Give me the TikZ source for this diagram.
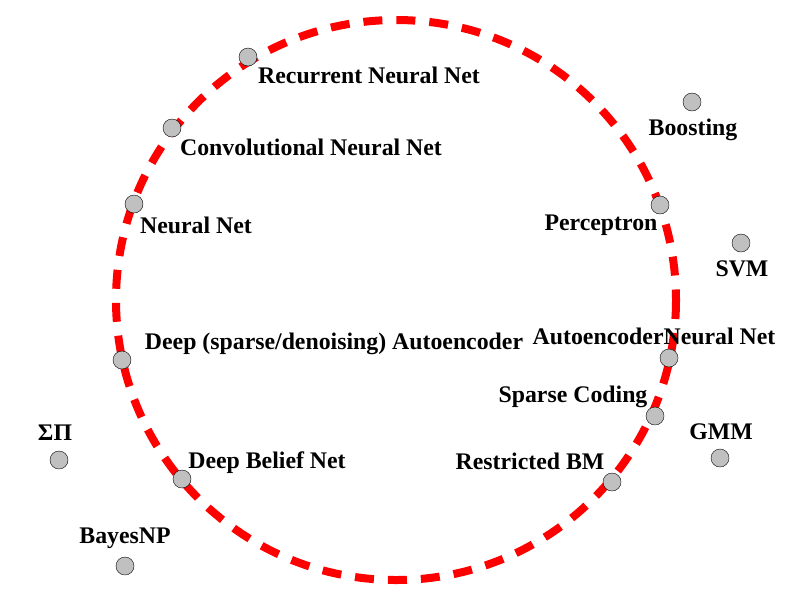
\documentclass[tikz,border=0pt]{standalone}
\usepackage{fontspec}
\setmainfont{Liberation Serif}
\usetikzlibrary{positioning}

\begin{document}
\begin{tikzpicture}[
                    x=1pt, y=-1pt,
                    ring/.style={red, line width=8pt, dash pattern=on 19pt off 14pt},
                    dot/.style={circle, draw, thin, fill={rgb,255:red,192;green,192;blue,192}, minimum size=18pt, inner sep=0pt},
                    lbl/.style={inner sep=0pt, font=\fontsize{23.8}{28}\selectfont\bfseries}
                ]
                \useasboundingbox (0,0) rectangle (794,595);
                \draw [ring] (396,300) circle [radius=280];
                % models on the ring
                \node [dot] (rnn) at (248,57) {};
                \node [dot] (cnn) at (172,128) {};
                \node [dot] (nn) at (134,204) {};
                \node [dot] (dae) at (122,360) {};
                \node [dot] (dbn) at (182,479) {};
                \node [dot] (rbm) at (612,482) {};
                \node [dot] (sc) at (655,416) {};
                \node [dot] (aenn) at (669,358) {};
                \node [dot] (perc) at (660,205) {};
                % models off the ring
                \node [dot] (boost) at (692,102) {};
                \node [dot] (svm) at (741,243) {};
                \node [dot] (gmm) at (720,458) {};
                \node [dot] (sp) at (59,460) {};
                \node [dot] (bnp) at (125,566) {};
                % labels
                \node [lbl] (rnnl) at (369,75) {Recurrent Neural Net};
                \node [lbl] (cnnl) at (311,147) {Convolutional Neural Net};
                \node [lbl] (nnl) at (196,225) {Neural Net};
                \node [lbl] (dael) at (334,344) {Deep (sparse/denoising) Autoencoder};
                \node [lbl] (aennl) at (654,336) {AutoencoderNeural Net};
                \node [lbl] (scl) at (573,397) {Sparse Coding};
                \node [lbl] (percl) at (601,225) {Perceptron};
                \node [lbl] (boostl) at (693,130) {Boosting};
                \node [lbl] (svml) at (742,269) {SVM};
                \node [lbl] (gmml) at (721,432) {GMM};
                \node [lbl] (rbml) at (530,461) {Restricted BM};
                \node [lbl] (dbnl) at (267,463) {Deep Belief Net};
                \node [lbl] (spl) at (55,433) {ΣΠ};
                \node [lbl] (bnpl) at (125,538) {BayesNP};
\end{tikzpicture}
\end{document}
